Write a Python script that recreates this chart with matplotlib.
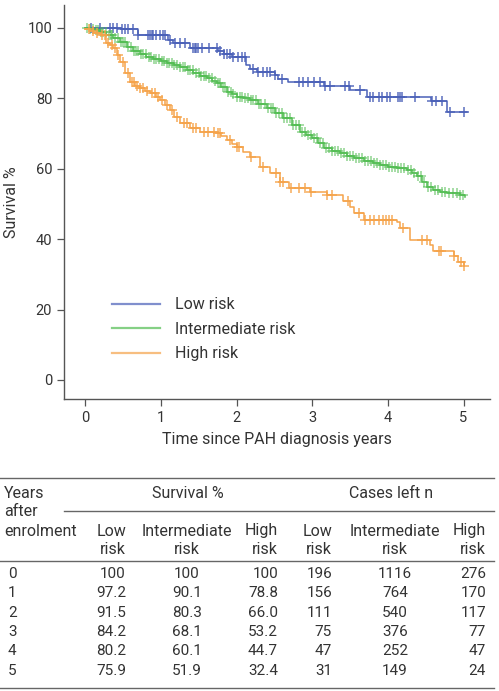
import numpy as np
import matplotlib
matplotlib.use("Agg")
import matplotlib.pyplot as plt
from matplotlib.lines import Line2D

plt.rcParams['font.family'] = ['Roboto', 'DejaVu Sans']

# ---- Kaplan-Meier steps (years, survival %) ----
low_t = [0, 0.47, 0.70, 1.10, 1.16, 1.38, 1.76, 1.83, 1.94, 2.13, 2.18, 2.27, 2.51, 2.55, 2.68,
         3.15, 3.50, 3.72, 4.57, 4.78, 5.05]
low_s = [100, 99.6, 98.0, 96.6, 95.6, 94.2, 93.3, 92.5, 91.7, 89.5, 88.3, 87.4, 86.6, 85.5, 84.5,
         83.5, 82.4, 80.4, 79.1, 76.0, 76.0]
low_cens = [0.08, 0.19, 0.33, 0.37, 0.42, 0.48, 0.53, 0.57, 0.63, 0.70, 0.83, 0.86, 0.88, 0.90,
            0.94, 0.99, 1.03, 1.05, 1.12, 1.19, 1.25, 1.32, 1.43, 1.45, 1.47, 1.49, 1.54, 1.63,
            1.74, 1.78, 1.83, 1.87, 1.91, 1.96, 2.02, 2.07, 2.11, 2.22, 2.29, 2.35, 2.40, 2.44,
            2.51, 2.60, 2.82, 2.88, 2.95, 3.02, 3.10, 3.17, 3.24, 3.44, 3.48, 3.63, 3.77, 3.81,
            3.88, 3.92, 3.99, 4.03, 4.14, 4.16, 4.19, 4.36, 4.58, 4.63, 4.71, 4.82, 5.00]

mid_t = [0, 0.06, 0.12, 0.19, 0.28, 0.37, 0.46, 0.55, 0.63, 0.72, 0.81, 0.90, 1.00, 1.08, 1.17,
         1.25, 1.34, 1.43, 1.52, 1.61, 1.68, 1.74, 1.80, 1.87, 1.94, 2.00, 2.09, 2.18, 2.29, 2.40,
         2.51, 2.62, 2.73, 2.84, 2.92, 3.00, 3.08, 3.15, 3.26, 3.37, 3.46, 3.55, 3.68, 3.81, 3.90,
         4.00, 4.12, 4.25, 4.32, 4.38, 4.45, 4.52, 4.60, 4.69, 4.78, 4.87, 4.95, 5.02]
mid_s = [100, 99.8, 99.3, 98.9, 98.0, 97.0, 96.0, 94.7, 93.5, 92.5, 91.8, 91.1, 90.5, 90.1, 89.6,
         89.0, 88.1, 87.1, 86.4, 85.7, 85.0, 84.3, 83.2, 81.9, 81.1, 80.4, 80.0, 79.5, 78.4, 77.2,
         75.8, 74.3, 72.5, 70.5, 69.6, 68.7, 67.2, 65.8, 65.0, 64.4, 63.7, 63.0, 62.3, 61.6, 61.1,
         60.6, 60.1, 59.7, 58.8, 57.8, 56.3, 54.9, 54.0, 53.5, 53.2, 53.0, 52.5, 52.1]
mid_cens = [0.03, 0.07, 0.10, 0.14, 0.17, 0.21, 0.24, 0.27, 0.31, 0.34, 0.36, 0.40, 0.43, 0.47,
            0.50, 0.53, 0.57, 0.60, 0.64, 0.67, 0.70, 0.74, 0.77, 0.80, 0.84, 0.87, 0.91, 0.94,
            0.97, 1.01, 1.04, 1.08, 1.11, 1.15, 1.18, 1.22, 1.25, 1.29, 1.32, 1.36, 1.39, 1.42,
            1.46, 1.50, 1.53, 1.57, 1.60, 1.64, 1.67, 1.71, 1.75, 1.78, 1.82, 1.85, 1.89, 1.93,
            1.96, 2.00, 2.04, 2.07, 2.11, 2.15, 2.19, 2.22, 2.26, 2.30, 2.33, 2.37, 2.41, 2.45,
            2.48, 2.52, 2.56, 2.60, 2.63, 2.67, 2.71, 2.75, 2.79, 2.82, 2.86, 2.90, 2.94, 2.98,
            3.02, 3.06, 3.10, 3.14, 3.18, 3.22, 3.26, 3.30, 3.34, 3.38, 3.42, 3.46, 3.50, 3.54,
            3.58, 3.62, 3.66, 3.70, 3.74, 3.78, 3.82, 3.86, 3.90, 3.94, 3.98, 4.02, 4.06, 4.10,
            4.14, 4.18, 4.22, 4.27, 4.31, 4.35, 4.40, 4.44, 4.48, 4.53, 4.57, 4.62, 4.66, 4.71,
            4.76, 4.81, 4.86, 4.91, 4.95, 4.99]

high_t = [0, 0.06, 0.12, 0.19, 0.28, 0.33, 0.37, 0.42, 0.46, 0.53, 0.59, 0.66, 0.72, 0.79, 0.86,
          0.93, 0.99, 1.06, 1.12, 1.18, 1.25, 1.38, 1.52, 1.74, 1.80, 1.87, 1.94, 2.00, 2.09,
          2.18, 2.31, 2.44, 2.57, 2.70, 2.97, 3.19, 3.41, 3.50, 3.55, 3.68, 4.12, 4.16, 4.29,
          4.56, 4.60, 4.87, 4.93, 5.00]
high_s = [99.6, 99.2, 98.6, 98.0, 95.6, 95.0, 94.2, 92.2, 90.4, 87.1, 84.7, 83.6, 82.9, 82.1, 81.4,
          80.4, 79.5, 78.2, 76.7, 74.6, 72.9, 71.5, 70.5, 70.1, 69.2, 68.2, 67.1, 66.3, 64.8,
          63.4, 60.6, 58.7, 56.3, 54.6, 53.5, 52.6, 50.7, 49.0, 47.4, 45.3, 45.0, 43.1, 39.8,
          38.4, 36.5, 35.2, 33.6, 32.4]
high_cens = [0.05, 0.10, 0.15, 0.22, 0.26, 0.30, 0.35, 0.40, 0.44, 0.50, 0.56, 0.62, 0.65, 0.69,
             0.73, 0.77, 0.82, 0.88, 0.92, 0.96, 1.02, 1.08, 1.15, 1.22, 1.30, 1.34, 1.42, 1.47,
             1.57, 1.62, 1.70, 1.75, 1.78, 1.91, 2.00, 2.03, 2.19, 2.35, 2.52, 2.57, 2.62, 2.72,
             2.82, 2.90, 2.98, 3.20, 3.26, 3.47, 3.62, 3.70, 3.76, 3.82, 3.88, 3.93, 3.98, 4.02,
             4.06, 4.20, 4.45, 4.52, 4.67, 4.70, 4.88, 4.97, 5.00]

labels = ["Low risk", "Intermediate risk", "High risk"]
colors = ["#4a60b8", "#52bd52", "#f5a34a"]

# ---- table data ----
years = ["0", "1", "2", "3", "4", "5"]
surv_low = ["100", "97.2", "91.5", "84.2", "80.2", "75.9"]
surv_mid = ["100", "90.1", "80.3", "68.1", "60.1", "51.9"]
surv_high = ["100", "78.8", "66.0", "53.2", "44.7", "32.4"]
n_low = ["196", "156", "111", "75", "47", "31"]
n_mid = ["1116", "764", "540", "376", "252", "149"]
n_high = ["276", "170", "117", "77", "47", "24"]

W, H = 499, 691
TXT = "#333333"


def surv_at(t, ts, ss):
    idx = np.searchsorted(ts, t, side="right") - 1
    return np.asarray(ss)[np.clip(idx, 0, len(ss) - 1)]


fig = plt.figure(figsize=(W / 100, H / 100), dpi=100)
ax = fig.add_axes([64 / W, 1 - 399 / H, (490 - 64) / W, (399 - 5) / H])

series = [(low_t, low_s, low_cens), (mid_t, mid_s, mid_cens), (high_t, high_s, high_cens)]
for (ts, ss, cs), lab, col in zip(series, labels, colors):
    ax.plot(ts, ss, drawstyle="steps-post", color=col, lw=1.1, label=lab)
    cs = np.array(cs)
    alpha = 0.65 if lab.startswith("Inter") else 0.9
    ax.plot(cs, surv_at(cs, ts, ss), ls="none", marker="+", ms=7, mew=1.1,
            color=col, alpha=alpha)

ax.set_xlim(-0.28, 5.35)
ax.set_ylim(-5.4, 106.5)
ax.set_xticks(range(6))
ax.set_yticks(range(0, 101, 20))
for s in ["top", "right"]:
    ax.spines[s].set_visible(False)
for s in ["left", "bottom"]:
    ax.spines[s].set_color("#555555")
    ax.spines[s].set_linewidth(1.0)
ax.tick_params(colors="#555555", labelcolor=TXT, labelsize=10.5, length=5, width=0.9)
ax.set_xlabel("Time since PAH diagnosis years", fontsize=11.5, color=TXT, labelpad=5)
ax.set_ylabel("Survival %", fontsize=11.5, color=TXT)
ax.yaxis.set_label_coords(-0.105, 0.5)

handles = [Line2D([], [], color=c, lw=1.6, alpha=0.7) for c in colors]
ax.legend(handles, labels, loc="upper left", bbox_to_anchor=(0.08, 0.295), frameon=False,
          fontsize=11.5, handlelength=3.0, handletextpad=0.9, labelspacing=0.6,
          labelcolor=TXT)


# ---- table below the chart ----
def ftext(x, y, s, ha="left", size=11.5):
    fig.text(x / W, 1 - y / H, s, ha=ha, va="center", fontsize=size, color=TXT)


def fline(x0, x1, y):
    fig.add_artist(Line2D([x0 / W, x1 / W], [1 - y / H, 1 - y / H], color="#666666", lw=1.0))


fline(0, 494, 478)
fline(64, 494, 511)
fline(0, 494, 561)
fline(0, 494, 688)

ftext(4, 494, "Years")
ftext(4, 512, "after")
ftext(4, 531, "enrolment")
ftext(188, 494, "Survival %", ha="center")
ftext(391, 494, "Cases left n", ha="center")

cols = [(126, "right", "Low", surv_low), (187, "center", "Intermediate", surv_mid),
        (278, "right", "High", surv_high), (332, "right", "Low", n_low),
        (395, "center", "Intermediate", n_mid), (486, "right", "High", n_high)]
row_y = [574, 593, 613, 632, 651, 671]
for x, ha, head, vals in cols:
    ftext(x, 531, head, ha=ha)
    ftext(x, 550, "risk", ha=ha)
    for yy, v in zip(row_y, vals):
        ftext(x, yy, v, ha=ha, size=11)
for yy, v in zip(row_y, years):
    ftext(8, yy, v, size=11)

fig.savefig("out.png", dpi=100)
